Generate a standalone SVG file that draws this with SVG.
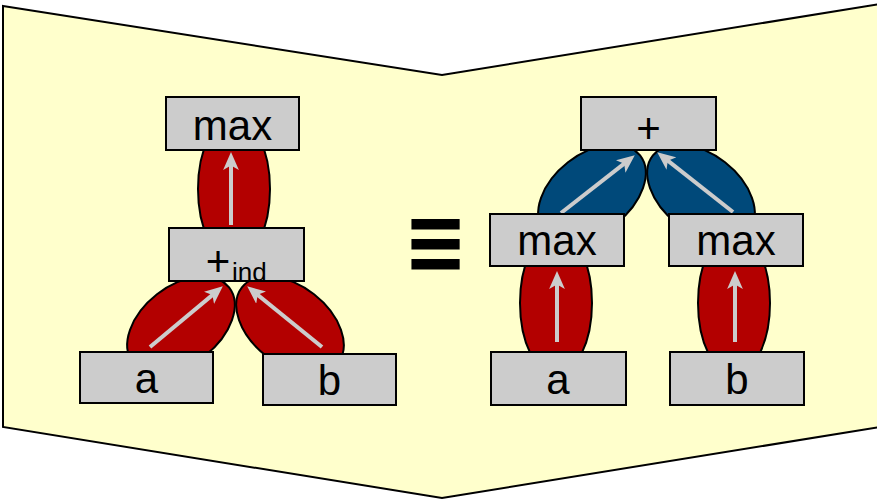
<svg xmlns="http://www.w3.org/2000/svg" width="877" height="500" viewBox="0 0 877 500">
<defs>
<style>
.bg{fill:#FFFFCC;stroke:#000;stroke-width:2}
.box{fill:#CCCCCC;stroke:#000;stroke-width:2}
.red{fill:#B30000;stroke:#000;stroke-width:2}
.blue{fill:#00497A;stroke:#000;stroke-width:2}
.arr{stroke:#CCCCCC;stroke-width:4;fill:none;marker-end:url(#ah)}
.lbl{font-family:"Liberation Sans",Arial,sans-serif;font-size:42px;fill:#000;text-anchor:middle}
</style>
<marker id="ah" markerUnits="userSpaceOnUse" markerWidth="18" markerHeight="16" refX="8" refY="7" orient="auto" viewBox="0 0 16 14">
<path d="M0,0 L16,7 L0,14 L4,7 Z" fill="#CCCCCC"/>
</marker>
</defs>
<polygon class="bg" points="3,6 442,75 880,4 880,427 442,498 3,427"/>
<g id="connectors">
<ellipse class="red" cx="234" cy="189" rx="36" ry="72"/>
<ellipse class="red" cx="181" cy="325" rx="61" ry="39" transform="rotate(-38 181 325)"/>
<ellipse class="red" cx="290" cy="325" rx="61" ry="39" transform="rotate(38 290 325)"/>
<ellipse class="blue" cx="592" cy="193" rx="61" ry="39" transform="rotate(-38 592 193)"/>
<ellipse class="blue" cx="701" cy="193" rx="61" ry="39" transform="rotate(38 701 193)"/>
<ellipse class="red" cx="556" cy="303" rx="36" ry="72"/>
<ellipse class="red" cx="734" cy="303" rx="36" ry="72"/>
<line class="arr" x1="231" y1="225" x2="231" y2="161"/>
<line class="arr" x1="150" y1="347" x2="215.9" y2="292.1"/>
<line class="arr" x1="322" y1="347" x2="254.2" y2="292"/>
<line class="arr" x1="561" y1="213" x2="627.7" y2="160.9"/>
<line class="arr" x1="733" y1="212" x2="664.3" y2="157.9"/>
<line class="arr" x1="557" y1="342" x2="557" y2="280"/>
<line class="arr" x1="735" y1="342" x2="735" y2="280"/>
</g>
<g id="L_max"><rect class="box" x="166" y="97" width="133" height="53"/><text class="lbl" x="232.5" y="140">max</text></g>
<g id="L_plus"><rect class="box" x="169" y="228" width="135" height="53"/><text class="lbl" x="218" y="276">+</text><text x="232" y="281" style="font-family:'Liberation Sans',Arial,sans-serif;font-size:26px">ind</text></g>
<g id="L_a"><rect class="box" x="80" y="352" width="133" height="51"/><text class="lbl" x="146.5" y="393">a</text></g>
<g id="L_b"><rect class="box" x="263" y="354" width="133" height="51"/><text class="lbl" x="329.5" y="395">b</text></g>
<g id="equiv"><text x="436" y="267" transform="translate(436 243) scale(1.07 1.27) translate(-436.5 -243.5)" style="font-family:'DejaVu Sans',sans-serif;font-size:72px;font-weight:bold;text-anchor:middle">≡</text></g>
<g id="R_plus"><rect class="box" x="581" y="97" width="135" height="53"/><text class="lbl" x="648.5" y="143">+</text></g>
<g id="R_max1"><rect class="box" x="490" y="214" width="134" height="52"/><text class="lbl" x="557" y="255">max</text></g>
<g id="R_max2"><rect class="box" x="669" y="214" width="134" height="52"/><text class="lbl" x="736" y="255">max</text></g>
<g id="R_a"><rect class="box" x="491" y="352" width="135" height="53"/><text class="lbl" x="558" y="394">a</text></g>
<g id="R_b"><rect class="box" x="670" y="352" width="134" height="53"/><text class="lbl" x="737" y="394">b</text></g>
</svg>
